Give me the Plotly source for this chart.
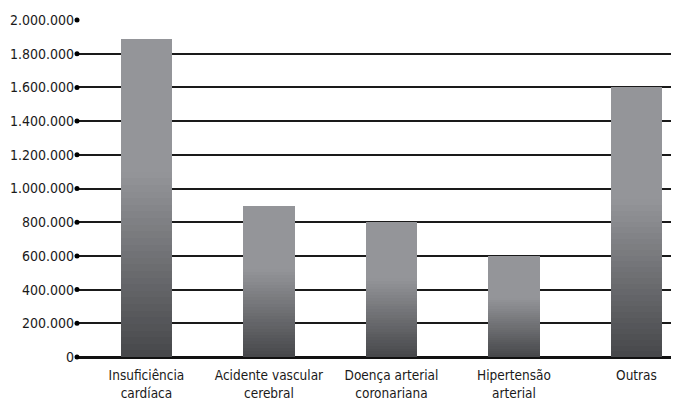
import plotly.graph_objects as go

categories = ["Insuficiência<br>cardíaca", "Acidente vascular<br>cerebral",
              "Doença arterial<br>coronariana", "Hipertensão<br>arterial", "Outras"]
values = [1885000, 895000, 802000, 600000, 1605000]
y_ticks = [0, 200000, 400000, 600000, 800000, 1000000, 1200000, 1400000,
           1600000, 1800000, 2000000]
y_tick_labels = ["0", "200.000", "400.000", "600.000", "800.000", "1.000.000",
                 "1.200.000", "1.400.000", "1.600.000", "1.800.000", "2.000.000"]

FONT = "DejaVu Sans Condensed"
light = (148, 149, 153)
dark = (70, 71, 74)
N = 48
grad_end = 0.58

x_idx = list(range(len(categories)))
x_min, x_max = -0.567, 4.347

fig = go.Figure()
for k in range(N):
    f = (k + 0.5) / N
    t = min(f / grad_end, 1.0)
    c = tuple(round(d + (l - d) * t) for d, l in zip(dark, light))
    fig.add_trace(go.Bar(
        x=x_idx, y=[v / N for v in values], width=0.42,
        marker=dict(color="rgb(%d,%d,%d)" % c, line=dict(width=0)),
        hoverinfo="skip", showlegend=False))

fig.add_trace(go.Scatter(
    x=[x_min] * len(y_ticks), y=y_ticks, mode="markers",
    marker=dict(color="black", size=5), cliponaxis=False,
    hoverinfo="skip", showlegend=False))

# page body has an 8px default margin, so the figure is sized to fit the window
fig.update_layout(
    width=671, height=396, barmode="stack", bargap=0,
    margin=dict(l=69, r=0, t=12, b=47),
    paper_bgcolor="white", plot_bgcolor="white",
    font=dict(family=FONT, size=13.5, color="#1a1a1a"),
)
fig.update_xaxes(
    range=[x_min, x_max], tickmode="array", tickvals=x_idx, ticktext=categories,
    showgrid=False, zeroline=False, showline=False, ticks="outside",
    ticklen=6, tickcolor="rgba(0,0,0,0)", tickangle=0, automargin=False,
    tickfont=dict(size=13.5, family=FONT))
fig.update_yaxes(
    range=[0, 2000000], tickmode="array", tickvals=y_ticks, ticktext=y_tick_labels,
    showgrid=True, gridcolor="#1a1a1a", gridwidth=1.5,
    zeroline=True, zerolinecolor="#111111", zerolinewidth=2.5,
    showline=False, ticks="", ticklen=0, ticklabelstandoff=2,
    automargin=False, tickfont=dict(size=14, family=FONT))

fig.write_html("out.html")
